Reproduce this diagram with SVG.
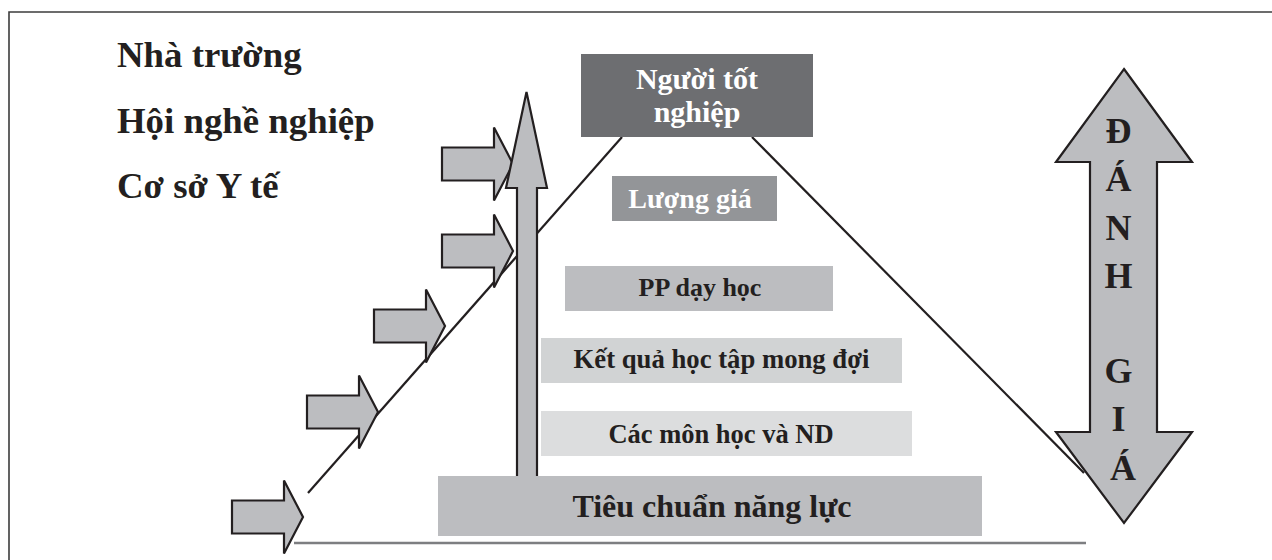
<svg xmlns="http://www.w3.org/2000/svg" width="1272" height="560" viewBox="0 0 1272 560">
  <style>
    .lbl { font-family: "Liberation Serif", "Times New Roman", serif; font-weight: bold; }
    .dark { fill: #231f20; }
    .light { fill: #ffffff; }
    .blk { fill: #bcbdc0; stroke: #231f20; stroke-width: 2.2; stroke-linejoin: miter; }
    .edge { fill: none; stroke: #231f20; stroke-width: 2.2; }
  </style>
  <defs>
    <!-- block arrow pointing right; origin at the middle of its tail -->
    <path id="stepArrow" class="blk" d="M0,-16.5 H52 V-36.5 L71,0 L52,36.5 V16.5 H0 Z"/>
  </defs>

  <rect width="1272" height="560" fill="#ffffff"/>
  <!-- frame: top and left edges -->
  <path d="M9,560 V12 H1272" fill="none" stroke="#3c3c3c" stroke-width="1.6"/>

  <!-- sources -->
  <g id="sources" class="lbl dark" font-size="36.8">
    <text x="117" y="67">Nhà trường</text>
    <text x="117" y="133">Hội nghề nghiệp</text>
    <text x="117" y="198">Cơ sở Y tế</text>
  </g>

  <!-- pyramid sides -->
  <g id="connectors">
    <line class="edge" x1="622" y1="137" x2="308" y2="493"/>
    <line class="edge" x1="752" y1="137" x2="1084" y2="473"/>
  </g>

  <!-- input arrows along the left side -->
  <g id="inputs">
    <use href="#stepArrow" x="442" y="164"/>
    <use href="#stepArrow" x="442" y="251"/>
    <use href="#stepArrow" x="374" y="326"/>
    <use href="#stepArrow" x="307" y="412"/>
    <use href="#stepArrow" x="232" y="517"/>
  </g>

  <!-- rising arrow -->
  <g id="progress">
    <path class="blk" d="M526.5,92 L547,188 L537,188 L537,480 L517,480 L517,188 L506,188 Z"/>
  </g>

  <!-- base line -->
  <line x1="294" y1="543" x2="1086" y2="543" stroke="#7d7e81" stroke-width="2.6"/>

  <g id="graduate">
    <rect x="581" y="54" width="232" height="83" fill="#6d6e71"/>
    <text class="lbl light" font-size="30" text-anchor="middle" x="697" y="89">Người tốt</text>
    <text class="lbl light" font-size="30" text-anchor="middle" x="697" y="122">nghiệp</text>
  </g>

  <g id="assessment">
    <rect x="612" y="176" width="165" height="45" fill="#939598"/>
    <text class="lbl light" font-size="28" text-anchor="middle" x="690" y="208">Lượng giá</text>
  </g>

  <g id="teaching">
    <rect x="565" y="266" width="268" height="45" fill="#bcbdc0"/>
    <text class="lbl dark" font-size="26" text-anchor="middle" x="700" y="296">PP dạy học</text>
  </g>

  <g id="outcomes">
    <rect x="541" y="338" width="361" height="45" fill="#d1d3d4"/>
    <text class="lbl dark" font-size="26.7" text-anchor="middle" x="721.5" y="368">Kết quả học tập mong đợi</text>
  </g>

  <g id="subjects">
    <rect x="541" y="411" width="371" height="45" fill="#dcddde"/>
    <text class="lbl dark" font-size="26.5" text-anchor="middle" x="721" y="443">Các môn học và ND</text>
  </g>

  <g id="competency">
    <rect x="438" y="476" width="544" height="60" fill="#bcbdc0"/>
    <text class="lbl dark" font-size="32" text-anchor="middle" x="712" y="517">Tiêu chuẩn năng lực</text>
  </g>

  <!-- evaluation double arrow -->
  <g id="evaluation">
    <path class="blk" d="M1124,69 L1192,162 L1157,162 L1157,432 L1192,432 L1124,523 L1056,432 L1090,432 L1090,162 L1056,162 Z"/>
    <text class="lbl dark" font-size="36" text-anchor="middle">
      <tspan x="1123" y="143">Đ</tspan>
      <tspan x="1123" y="191">Á</tspan>
      <tspan x="1123" y="240">N</tspan>
      <tspan x="1123" y="288">H</tspan>
      <tspan x="1123" y="383">G</tspan>
      <tspan x="1123" y="431">I</tspan>
      <tspan x="1123" y="480">Á</tspan>
    </text>
  </g>
</svg>
